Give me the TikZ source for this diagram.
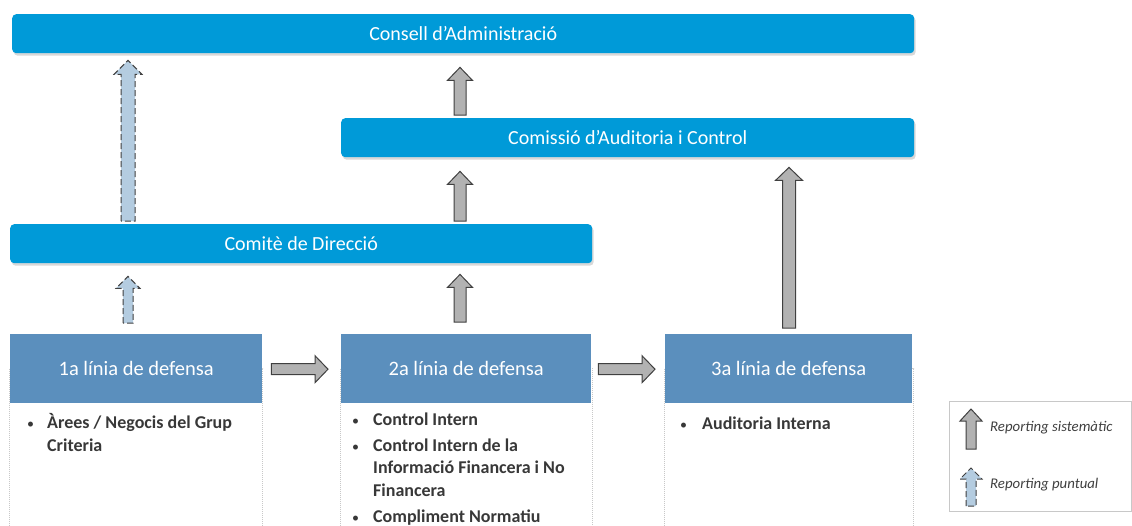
\documentclass[tikz,border=0pt]{standalone}
\usepackage{fontspec}
\setmainfont{Carlito}
\usetikzlibrary{calc,shadows}
\definecolor{topblue}{HTML}{009AD8}
\definecolor{headblue}{HTML}{5B8FBD}
\definecolor{arrgray}{HTML}{B2B2B2}
\definecolor{arrblue}{HTML}{B4CCE0}
\definecolor{edgegray}{HTML}{404040}
\definecolor{txtgray}{HTML}{383838}
\definecolor{dotgray}{HTML}{C8C8C8}
\tikzset{
  govbox/.style={fill=topblue, rounded corners=4pt, text=white, anchor=north west,
    inner sep=0pt, minimum height=39pt, font=\fontsize{20}{23}\selectfont,
    drop shadow={opacity=0.3, shadow xshift=1.5pt, shadow yshift=-2.5pt}},
  headbox/.style={fill=headblue, text=white, anchor=north west, inner sep=0pt,
    minimum height=69pt, font=\fontsize{20.5}{23}\selectfont},
  bodybox/.style={draw=dotgray, densely dotted, line width=1pt, anchor=north west, inner sep=0pt},
  sysarrow/.style={fill=arrgray, draw=edgegray, line width=1pt, line join=miter},
  puntarrow/.style={fill=arrblue, draw=edgegray, line width=1pt, dash pattern=on 6pt off 3pt},
  bul/.style={anchor=base west, inner sep=0pt, text=txtgray, font=\fontsize{14}{22}\selectfont},
  itm/.style={anchor=base west, inner sep=0pt, text=txtgray, align=left,
    font=\fontsize{18}{22.5}\selectfont\bfseries},
  legtext/.style={anchor=west, inner sep=0pt, text=edgegray, font=\fontsize{14.8}{17}\selectfont\itshape},
}
% vertical block arrow: style, start point, tip point, half shaft, half head, head length
\newcommand\varrow[6]{%
  \draw[#1] let \p1=(#2), \p2=(#3) in
    (\x1-#4pt,\y1) -- (\x1-#4pt,\y2-#6pt) -- (\x1-#5pt,\y2-#6pt) -- (\x1,\y2)
    -- (\x1+#5pt,\y2-#6pt) -- (\x1+#4pt,\y2-#6pt) -- (\x1+#4pt,\y1) -- cycle;}
% horizontal block arrow (pointing right)
\newcommand\harrow[6]{%
  \draw[#1] let \p1=(#2), \p2=(#3) in
    (\x1,\y1+#4pt) -- (\x2-#6pt,\y1+#4pt) -- (\x2-#6pt,\y1+#5pt) -- (\x2,\y1)
    -- (\x2-#6pt,\y1-#5pt) -- (\x2-#6pt,\y1-#4pt) -- (\x1,\y1-#4pt) -- cycle;}
\begin{document}
\begin{tikzpicture}[x=1pt, y=-1pt]
\useasboundingbox (0,0) rectangle (1132,525);
\fill[white] (0,0) rectangle (1132,525);

% governance bars
\node[govbox, minimum width=902pt] (cons) at (12,14) {Consell d’Administració};
\node[govbox, minimum width=573pt] (comis) at (341,118) {Comissió d’Auditoria i Control};
\node[govbox, minimum width=582pt] (comite) at (10,224) {Comitè de Direcció};

% body boxes (behind headers)
\begin{scope}
\clip (0,0) rectangle (1132,525);
\node[bodybox, minimum width=253pt, minimum height=180pt] (b1) at (9,368) {};
\node[bodybox, minimum width=252pt, minimum height=180pt] (b2) at (340,368) {};
\node[bodybox, minimum width=249pt, minimum height=180pt] (b3) at (664,368) {};
\end{scope}

% line headers
\node[headbox, minimum width=252pt] (h1) at (10,334) {1a línia de defensa};
\node[headbox, minimum width=250pt] (h2) at (341,334) {2a línia de defensa};
\node[headbox, minimum width=247pt] (h3) at (665,334) {3a línia de defensa};

% x positions of vertical arrows
\coordinate (xa) at (128,0);
\coordinate (xb) at (460,0);
\coordinate (xc) at (789,0);

% vertical arrows
\varrow{puntarrow}{$(xa |- comite.north)+(0,-3)$}{$(xa |- cons.south)+(0,7)$}{7}{14}{14}
\varrow{puntarrow}{$(xa |- h1.north)+(0,-11)$}{$(xa |- comite.south)+(0,13)$}{5}{12}{12}
\varrow{sysarrow}{$(xb |- comis.north)+(0,-3)$}{$(xb |- cons.south)+(0,14)$}{6}{12.5}{13}
\varrow{sysarrow}{$(xb |- comite.north)+(0,-3)$}{$(xb |- comis.south)+(0,14)$}{6}{12.5}{13}
\varrow{sysarrow}{$(xb |- h2.north)+(0,-12)$}{$(xb |- comite.south)+(0,11)$}{6}{12.5}{13}
\varrow{sysarrow}{$(xc |- h3.north)+(0,-6)$}{$(xc |- comis.south)+(0,10)$}{6.5}{13.5}{13}

% horizontal arrows
\harrow{sysarrow}{$(h1.east)+(9,0.5)$}{$(h2.west)+(-13,0.5)$}{5.5}{13.5}{13}
\harrow{sysarrow}{$(h2.east)+(7,0.5)$}{$(h3.west)+(-10,0.5)$}{5.5}{13.5}{13}

% bullet items (anchor = baseline of last line)
\node[bul] (u1) at (27,428) {•};
\node[itm] (t1) at (47,451) {Àrees / Negocis del Grup\\Criteria};

\node[bul] (u2a) at (352,425) {•};
\node[itm] (t2a) at (373,425) {Control Intern};
\node[bul] (u2b) at (352,451) {•};
\node[itm] (t2b) at (373,496) {Control Intern de la\\Informació Financera i No\\Financera};
\node[bul] (u2c) at (352,522) {•};
\node[itm] (t2c) at (373,522) {Compliment Normatiu};

\node[bul] (u3) at (680,429) {•};
\node[itm] (t3) at (702,429) {Auditoria Interna};

% legend
\node[draw=dotgray, line width=0.8pt, anchor=north west, inner sep=0pt,
      minimum width=182pt, minimum height=110pt] (leg) at (949,401) {};
\coordinate (ls1) at (971,449);
\coordinate (lt1) at (971,409);
\coordinate (ls2) at (971,506);
\coordinate (lt2) at (971,468);
\varrow{sysarrow}{ls1}{lt1}{5}{11}{12}
\varrow{puntarrow}{ls2}{lt2}{5}{11}{11}
\node[legtext] (lg1) at (990,428) {Reporting sistemàtic};
\node[legtext] (lg2) at (990,485) {Reporting puntual};
\end{tikzpicture}
\end{document}
